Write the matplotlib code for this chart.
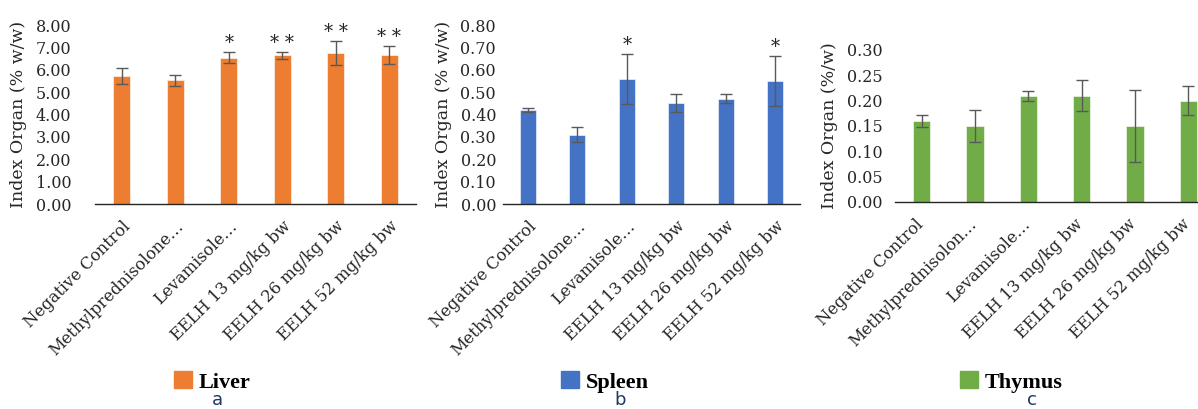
import numpy as np
import matplotlib
matplotlib.use('Agg')
import matplotlib.pyplot as plt
import matplotlib.transforms as mtransforms
from matplotlib.patches import Patch

plt.rcParams['font.family'] = ['DejaVu Serif']

# data
groups = ['Negative Control', 'Methylprednisolone…', 'Levamisole…',
          'EELH 13 mg/kg bw', 'EELH 26 mg/kg bw', 'EELH 52 mg/kg bw']
groups_thymus = ['Negative Control', 'Methylprednisolon…', 'Levamisole…',
                 'EELH 13 mg/kg bw', 'EELH 26 mg/kg bw', 'EELH 52 mg/kg bw']

liver = [5.73, 5.52, 6.53, 6.64, 6.76, 6.64]
liver_err = [0.35, 0.24, 0.25, 0.15, 0.53, 0.40]
liver_sig = ['', '', '*', '* *', '* *', '* *']

spleen = [0.42, 0.31, 0.56, 0.45, 0.47, 0.55]
spleen_err = [0.01, 0.033, 0.112, 0.04, 0.02, 0.11]
spleen_sig = ['', '', '*', '', '', '*']

thymus = [0.16, 0.15, 0.21, 0.21, 0.15, 0.20]
thymus_err = [0.011, 0.031, 0.01, 0.031, 0.071, 0.029]
thymus_sig = ['', '', '', '', '', '']

W, H = 1198, 409
fig = plt.figure(figsize=(W / 100, H / 100), dpi=100)


def px_axes(left, right, bottom, top):
    return fig.add_axes([left / W, 1 - bottom / H, (right - left) / W, (bottom - top) / H])


panels = [
    dict(box=(95, 416, 204, 25), vals=liver, err=liver_err, sig=liver_sig, labels=groups,
         color='#ED7D31', name='Liver', letter='a', ymax=8.0, step=1.0,
         ylabel='Index Organ (% w/w)', pad=17, lpad=6, legx=212, letx=217, shift=0),
    dict(box=(503, 800, 204, 25), vals=spleen, err=spleen_err, sig=spleen_sig, labels=groups,
         color='#4472C4', name='Spleen', letter='b', ymax=0.8, step=0.1,
         ylabel='Index Organ (% w/w)', pad=5, lpad=6, legx=605, letx=620, shift=0),
    dict(box=(895, 1215, 202, 50), vals=thymus, err=thymus_err, sig=thymus_sig, labels=groups_thymus,
         color='#70AD47', name='Thymus', letter='c', ymax=0.30, step=0.05,
         ylabel='Index Organ (%/w)', pad=9, lpad=6, legx=1011, letx=1032, shift=-7),
]

for p in panels:
    ax = px_axes(*p['box'])
    x = np.arange(len(p['vals']))
    ax.bar(x, p['vals'], width=0.32, color=p['color'], edgecolor='white', linewidth=0.4,
           yerr=p['err'], capsize=4,
           error_kw=dict(ecolor='#595959', elinewidth=1.0, capthick=1.0))
    ax.set_xlim(-0.5, len(x) - 0.5)
    ax.set_ylim(0, p['ymax'])
    ax.set_yticks(np.arange(0, p['ymax'] + p['step'] / 2, p['step']))
    ax.yaxis.set_major_formatter(matplotlib.ticker.FormatStrFormatter('%.2f'))
    ax.tick_params(axis='y', length=0, pad=p['pad'], labelsize=11.5, colors='#262626')
    ax.tick_params(axis='x', length=0, pad=10, labelsize=11.8, colors='#262626')
    ax.set_xticks(x)
    ax.set_xticklabels(p['labels'], rotation=45, ha='right', va='top', rotation_mode='anchor')
    if p['shift']:
        off = mtransforms.ScaledTranslation(p['shift'] / 100, 0, fig.dpi_scale_trans)
        for lab in ax.get_xticklabels():
            lab.set_transform(lab.get_transform() + off)
    for s in ['top', 'right', 'left']:
        ax.spines[s].set_visible(False)
    ax.spines['bottom'].set_color('#262626')
    ax.spines['bottom'].set_linewidth(1.0)
    ax.set_ylabel(p['ylabel'], fontsize=12.5, labelpad=p['lpad'], color='#262626')
    for xi, v, e, s in zip(x, p['vals'], p['err'], p['sig']):
        if s:
            ax.annotate(s, (xi, v + e), xytext=(0, 0), textcoords='offset points',
                        ha='center', va='bottom', fontsize=13, color='#262626')
    # legend + panel letter under each chart
    ax.legend(handles=[Patch(color=p['color'], label=p['name'])], loc='center',
              bbox_to_anchor=(p['legx'] / W, 1 - 382 / H), bbox_transform=fig.transFigure,
              frameon=False, handlelength=0.8, handleheight=0.8, handletextpad=0.3,
              prop=dict(weight='bold', size=16, family='Liberation Serif'))
    fig.text(p['letx'] / W, 1 - 400 / H, p['letter'], ha='center', va='center',
             fontsize=13, color='#1F3864', family=['DejaVu Sans'])

fig.savefig('out.png', dpi=100)
